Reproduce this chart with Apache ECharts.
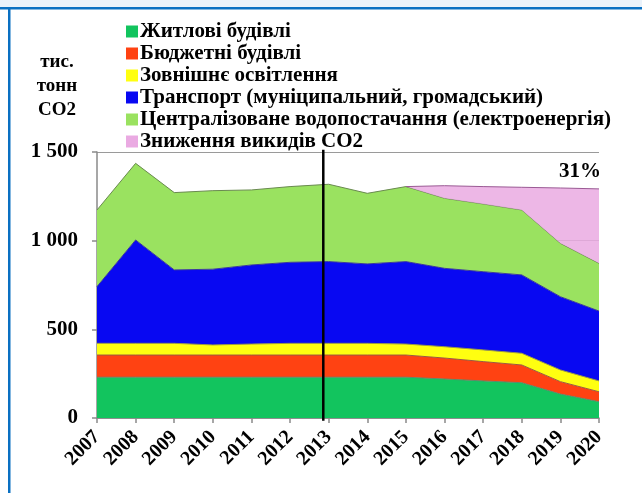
<!DOCTYPE html>
<html>
<head>
<meta charset="utf-8">
<script src="https://cdn.jsdelivr.net/npm/echarts@6/dist/echarts.min.js"></script>
<style>
  html, body { margin: 0; padding: 0; background: #fff; }
  #chart { width: 642px; height: 495px; }
</style>
</head>
<body>
<div id="chart"></div>
<script>
// роки та значення (тис. тонн CO2), зчитані з рисунку
const years = ['2007','2008','2009','2010','2011','2012','2013','2014','2015','2016','2017','2018','2019','2020'];
const residential = [230, 230, 230, 230, 230, 230, 230, 230, 230, 220, 209, 199, 135, 92];
const budget      = [125, 125, 125, 125, 125, 125, 125, 125, 125, 118, 109, 100, 70, 56];
const lighting    = [66, 66, 66, 57, 62, 66, 66, 66, 62, 64, 66, 66, 66, 61];
const transport   = [320, 583, 414, 427, 446, 457, 461, 448, 465, 442, 441, 442, 413, 394];
const water       = [432, 432, 436, 443, 423, 427, 436, 398, 423, 395, 382, 366, 301, 269];
const reduction   = ['-', '-', '-', '-', '-', '-', '-', '-', 0, 71, 98, 128, 312, 420];
const reductionLabel = '31%';
const yTicks = [0, 500, 1000, 1500];
const dividerYear = 2012.86;   // вертикальна лінія між 2012 і 2013

const names = [
  'Житлові будівлі',
  'Бюджетні будівлі',
  'Зовнішнє освітлення',
  'Транспорт (муніципальний, громадський)',
  'Централізоване водопостачання (електроенергія)',
  'Зниження викидів CO2'
];
const colors = ['#12c45e', '#ff4212', '#ffff10', '#0808f2', '#9ae260', '#eaaae2'];
const edges  = ['#5a8a6a', '#9a5a40', '#9a9a40', '#3a3a9a', '#6a8a50', '#9a5a94'];

const font = '"Liberation Serif", "Times New Roman", serif';
const chart = echarts.init(document.getElementById('chart'));

function fmt(v) {
  return String(v).replace(/\B(?=(\d{3})+(?!\d))/g, ' ');
}

function area(i, data, extra) {
  return Object.assign({
    name: names[i],
    type: 'line',
    stack: 'total',
    data: data,
    symbol: 'none',
    z: 2,
    itemStyle: { color: colors[i] },
    lineStyle: { color: edges[i], width: 1 },
    areaStyle: { color: colors[i], opacity: 1 },
    emphasis: { disabled: true }
  }, extra || {});
}

const lastIdx = reduction.length - 1;
const reductionData = reduction.map((v, i) => i === lastIdx ? {
  value: v,
  label: {
    show: true, position: 'top', offset: [-19, -2],
    formatter: reductionLabel,
    fontFamily: font, fontWeight: 'bold', fontSize: 21, color: '#000'
  }
} : v);

option = {
  animation: false,
  backgroundColor: '#fff',
  grid: { left: 97, right: 43, top: 152, bottom: 77 },
  legend: {
    orient: 'vertical',
    left: 121, top: 16,
    itemWidth: 12, itemHeight: 12, itemGap: 1,
    icon: 'rect',
    selectedMode: false,
    textStyle: { fontFamily: font, fontWeight: 'bold', fontSize: 21, lineHeight: 21, color: '#000', padding: [0, 0, 0, -3] },
    data: names
  },
  xAxis: [{
    type: 'category',
    data: years,
    boundaryGap: false,
    axisLine: { lineStyle: { color: '#8a8a8a', width: 1.5 } },
    axisTick: { show: true, length: 5, lineStyle: { color: '#8a8a8a', width: 1.5 } },
    axisLabel: {
      rotate: 45, margin: 16, interval: 0,
      fontFamily: font, fontWeight: 'bold', fontSize: 20, color: '#000'
    }
  }, {
    type: 'value', min: 2007, max: 2020, show: false
  }],
  yAxis: {
    type: 'value', min: 0, max: 1500, interval: 500,
    axisLine: { show: true, lineStyle: { color: '#8a8a8a', width: 1.5 } },
    axisTick: { show: true, length: 5, lineStyle: { color: '#8a8a8a', width: 1.5 } },
    splitLine: { show: true, lineStyle: { color: '#9a9a9a', width: 1 } },
    axisLabel: {
      margin: 19,
      formatter: v => yTicks.includes(v) ? fmt(v) : '',
      fontFamily: font, fontWeight: 'bold', fontSize: 21, color: '#000'
    }
  },
  graphic: [
    { type: 'rect', shape: { x: 0, y: 0, width: 642, height: 7 }, style: { fill: '#eaf2fa' }, silent: true },
    { type: 'rect', shape: { x: 0, y: 7, width: 642, height: 2.5 }, style: { fill: '#0a70c2' }, silent: true },
    { type: 'rect', shape: { x: 8, y: 7, width: 2.5, height: 486 }, style: { fill: '#0a70c2' }, silent: true },
    {
      type: 'text', silent: true, x: 57, y: 50,
      style: {
        text: 'тис.\nтонн\nCO2', align: 'center', lineHeight: 24,
        font: 'bold 19px ' + font, fill: '#000'
      }
    }
  ],
  series: [
    area(0, residential),
    area(1, budget),
    area(2, lighting),
    area(3, transport),
    area(4, water),
    area(5, reductionData, {
      symbol: 'circle', symbolSize: 0.1, showSymbol: true,
      areaStyle: { color: colors[5], opacity: 0.85 }, z: 3
    }),
    {
      type: 'line', xAxisIndex: 1,
      data: [[dividerYear, -15], [dividerYear, 1512]],
      symbol: 'none', clip: false, z: 5,
      lineStyle: { color: '#000', width: 2.5 },
      emphasis: { disabled: true }
    }
  ]
};

chart.setOption(option);
</script>
</body>
</html>
